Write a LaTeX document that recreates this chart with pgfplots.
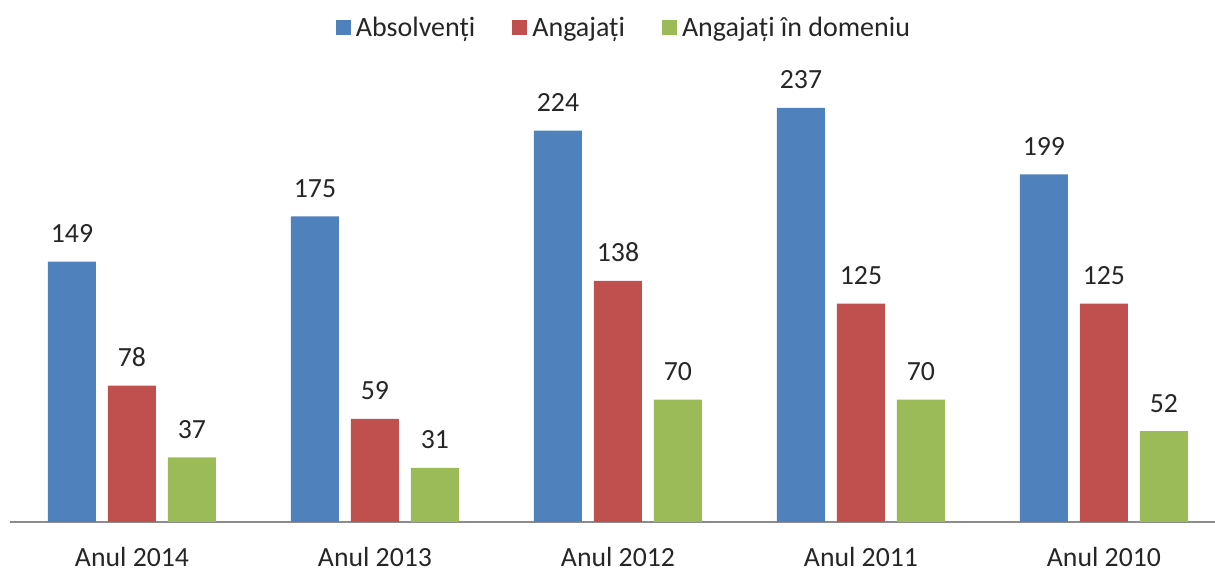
\documentclass[border=0pt]{standalone}
\usepackage{pgfplots}
\pgfplotsset{compat=1.18}
\usepackage{fontspec}
\setmainfont{Carlito}
\definecolor{cblue}{HTML}{4F81BD}
\definecolor{cred}{HTML}{C0504D}
\definecolor{cgreen}{HTML}{9BBB59}
\definecolor{ctext}{HTML}{262626}
\begin{document}
\begin{tikzpicture}
\begin{axis}[
  name=a,
  scale only axis,
  width=903.75pt, height=346.5pt,
  xmin=-0.502, xmax=4.457,
  ymin=0, ymax=264.45,
  ybar=9pt, bar width=36pt,
  axis y line=none,
  axis x line*=bottom,
  x axis line style={draw=black!45, line width=0.8pt, -},
  xtick={0,1,2,3,4},
  xticklabels={Anul 2014,Anul 2013,Anul 2012,Anul 2011,Anul 2010},
  major tick length=0pt,
  /pgf/number format/assume math mode=true,
  tick label style={font=\fontsize{20.8}{24}\selectfont, text=ctext, inner sep=0pt},
  xticklabel style={yshift=-19pt},
  nodes near coords,
  every node near coord/.append style={font=\fontsize{20.8}{24}\selectfont, text=ctext, inner sep=0pt, anchor=south, yshift=14pt},
  legend columns=3,
  legend style={draw=none, fill=none, at={(0.5,1)}, anchor=center, xshift=8.5pt, yshift=24pt,
    font=\fontsize{21}{24}\selectfont, text=ctext,
    nodes={inner sep=1.5pt},
    /tikz/every odd column/.append style={column sep=2.5pt},
    /tikz/every even column/.append style={column sep=26pt}},
  every axis plot post/.append style={legend image code/.code={\fill[##1,draw=none] (0pt,-5pt) rectangle (11.25pt,6.25pt);}},
  clip=false,
]
\addplot[fill=cblue, draw=none] coordinates {(0,149) (1,175) (2,224) (3,237) (4,199)};
\addplot[fill=cred, draw=none] coordinates {(0,78) (1,59) (2,138) (3,125) (4,125)};
\addplot[fill=cgreen, draw=none] coordinates {(0,37) (1,31) (2,70) (3,70) (4,52)};
\legend{Absolvenți,Angajați,Angajați în domeniu}
\end{axis}
\pgfresetboundingbox
\path[use as bounding box] ([xshift=-7.5pt,yshift=-39pt]a.south west) rectangle ([yshift=45pt]a.north east);
\end{tikzpicture}
\end{document}
